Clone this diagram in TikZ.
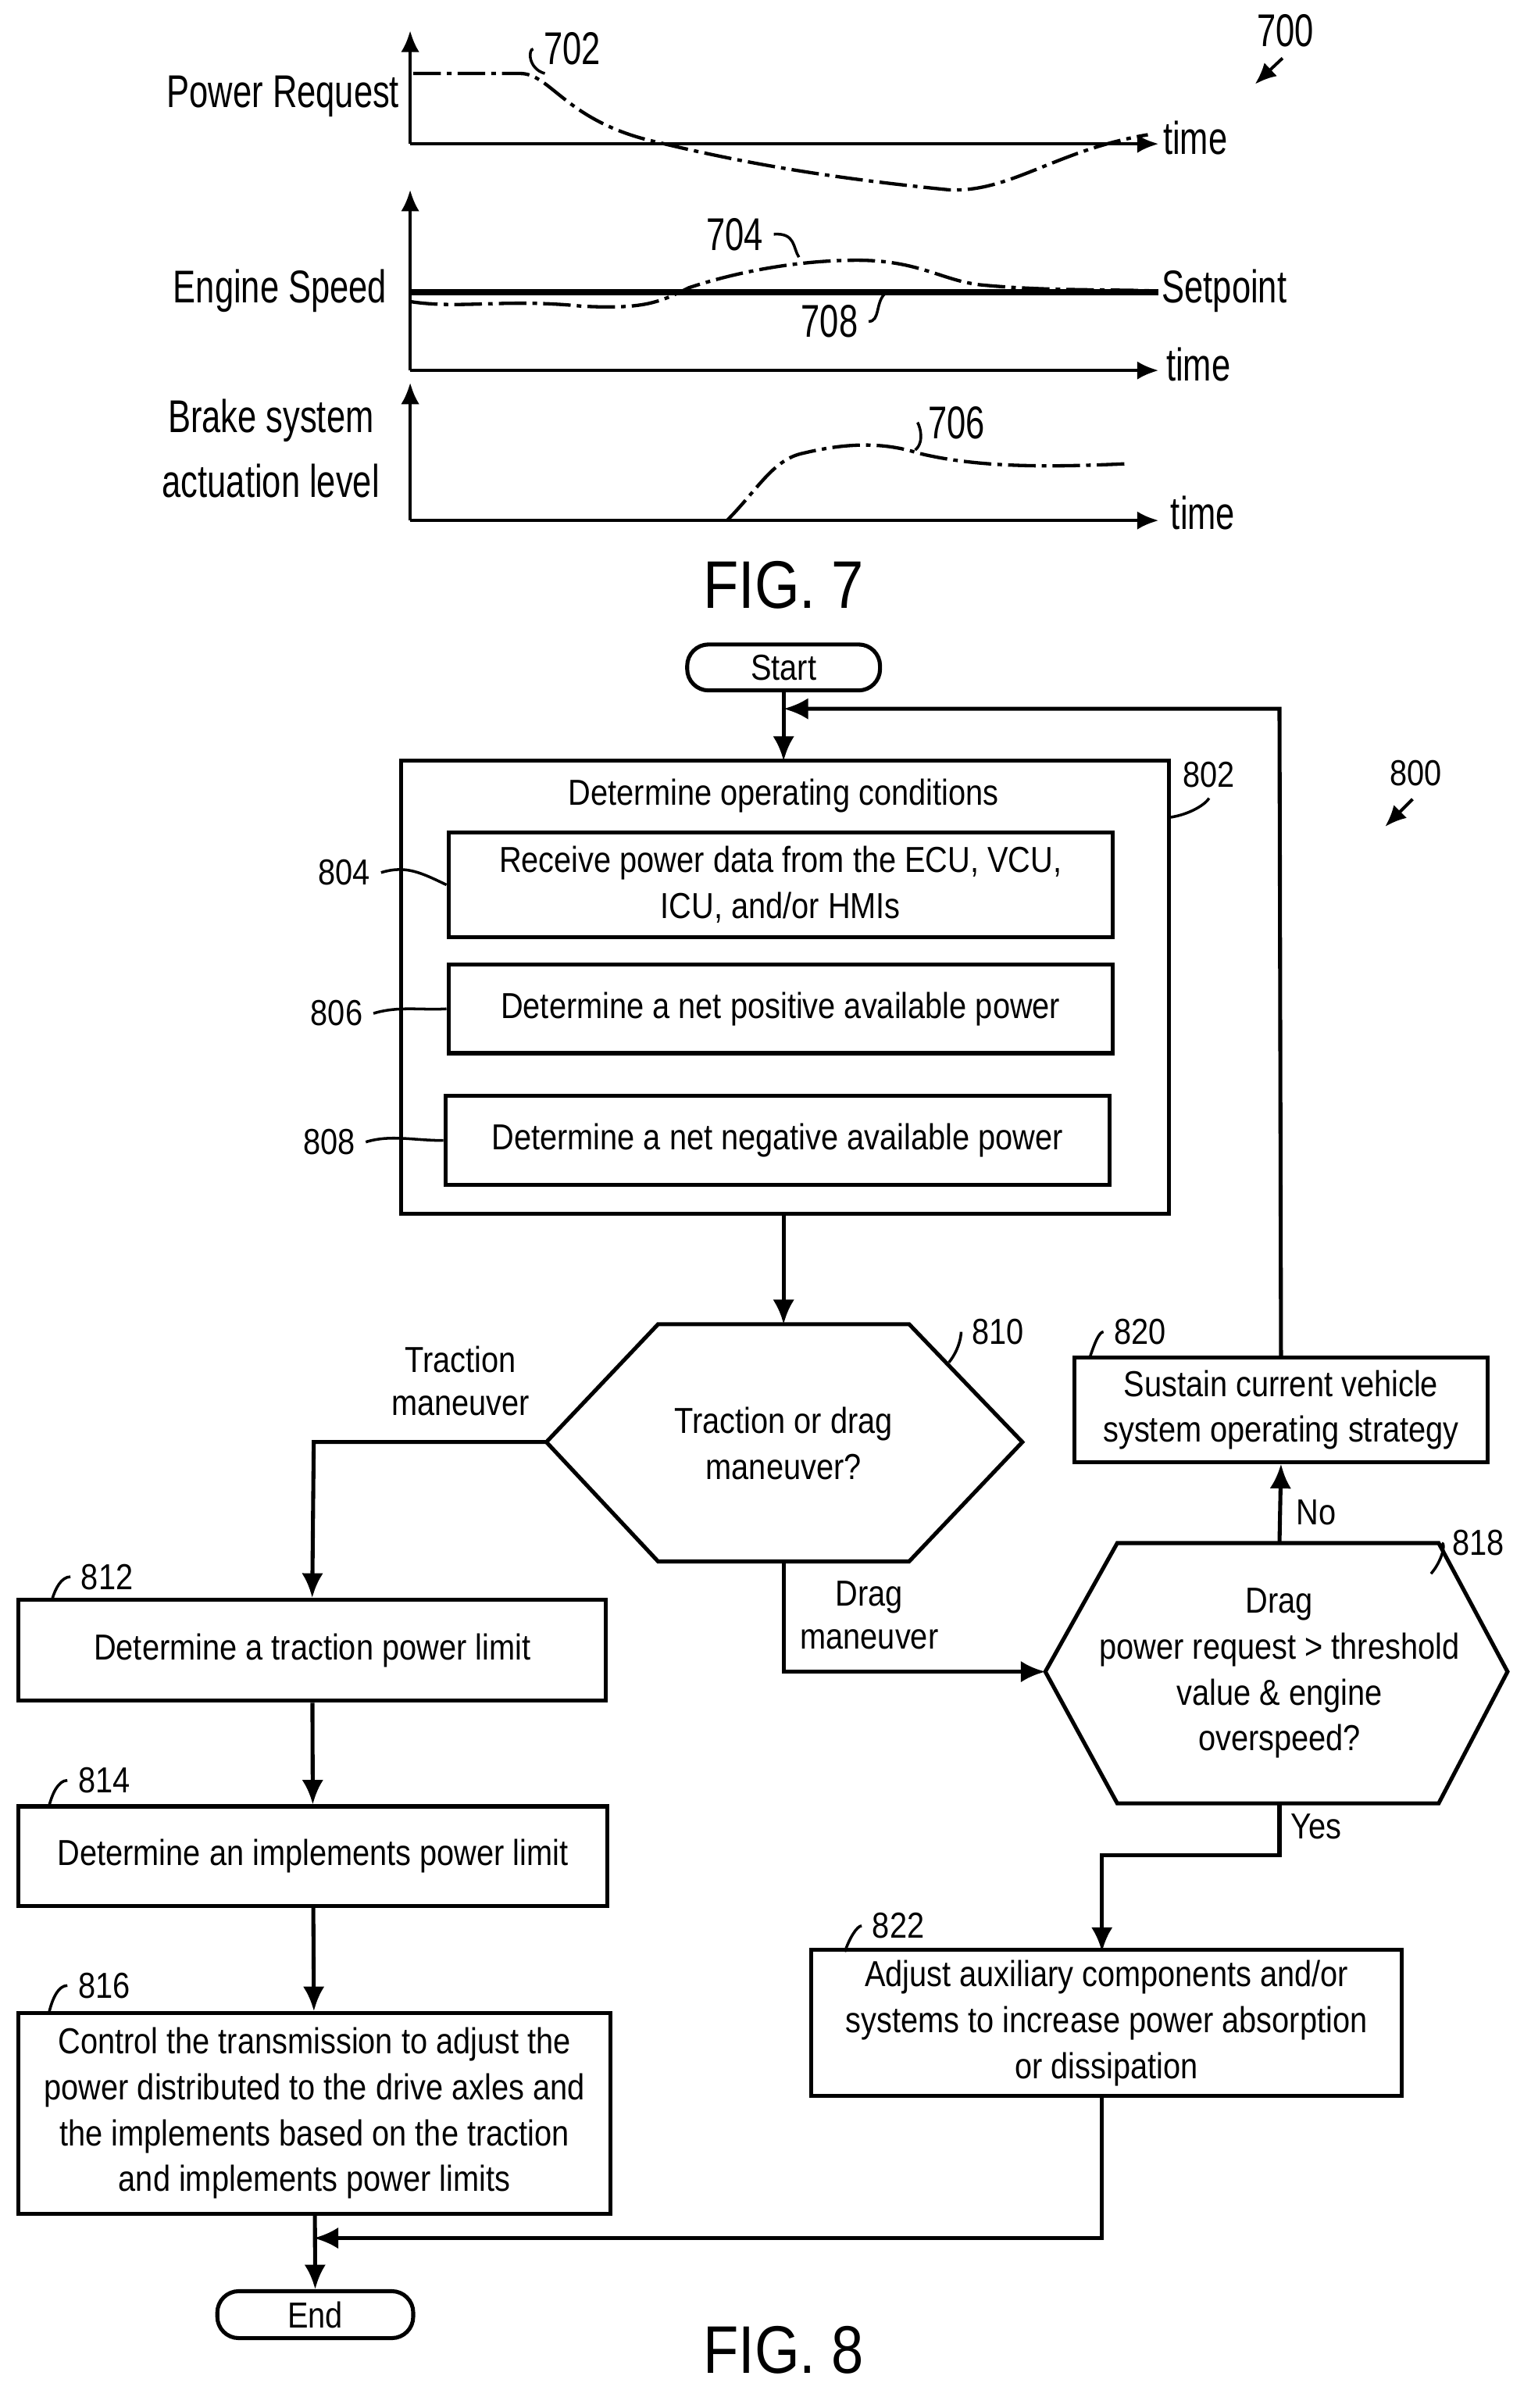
\documentclass[tikz,border=0pt]{standalone}
\usepackage{fontspec}
\setmainfont{Liberation Sans}[FakeStretch=0.86]
\newfontfamily\narrowfont{Liberation Sans}[FakeStretch=0.74]
\usetikzlibrary{arrows.meta,shapes.geometric}
\tikzset{
  box/.style={draw,line width=1.3pt,align=center,font=\fontsize{11.8}{15}\selectfont},
  lbl/.style={font=\fontsize{11.8}{14}\selectfont},
  axlbl/.style={font=\narrowfont\fontsize{15}{21}\selectfont,align=center},
  ax/.style={line width=1pt,-{Latex[length=7pt,width=6pt]}},
  flow/.style={line width=1.3pt,-{Latex[length=8pt,width=7pt]}},
  curve/.style={line width=1.1pt,dash pattern={on 9pt off 2pt on 1.5pt off 2pt}},
  lead/.style={line width=0.9pt},
  term/.style={draw,line width=1.3pt,rounded corners=7pt,font=\fontsize{11.8}{13}\selectfont}
}
\begin{document}
\begin{tikzpicture}[x=0.5pt,y=-0.5pt]
\useasboundingbox (0,0) rectangle (1000,1573);

%FIG. 7 axes
\coordinate (o1) at (268,94); \coordinate (o2) at (268,242); \coordinate (o3) at (268,340);
\draw[ax] (o1) -- (268,20);
\draw[ax] (o1) -- (757,94);
\draw[ax] (o2) -- (268,124);
\draw[ax] (o2) -- (757,242);
\draw[ax] (o3) -- (268,250);
\draw[ax] (o3) -- (757,340);
\draw[line width=2pt] (268,191) -- (757,191);

\node[axlbl] (preq) at (185,63) {Power Request};
\node[axlbl] (espd) at (183,190) {Engine Speed};
\node[axlbl] (brk) at (177,293) {Brake system\\actuation level};
\node[axlbl] (t1) at (781,90) {time};
\node[axlbl] (t2) at (783,238) {time};
\node[axlbl] (t3) at (786,335) {time};
\node[axlbl] (setp) at (800,190) {Setpoint};

%curves
\draw[curve] (270,48) -- (340,48) .. controls (360,48) and (370,80) .. (430,93)
  .. controls (500,110) and (560,118) .. (620,124) .. controls (660,126) and (690,98) .. (750,88);
\draw[curve] (268,197) .. controls (300,202) and (330,195) .. (380,200) .. controls (420,202) and (430,198) .. (450,188)
  .. controls (480,178) and (520,170) .. (560,170) .. controls (600,170) and (615,183) .. (640,186)
  .. controls (680,190) and (720,189) .. (755,190);
\draw[curve] (475,340) .. controls (495,320) and (505,300) .. (525,296) .. controls (550,290) and (575,288) .. (600,296)
  .. controls (640,306) and (690,305) .. (735,303);

%curve labels
\node[axlbl] (l702) at (374,32) {702};
\node[axlbl] (l704) at (480,153) {704};
\node[axlbl] (l708) at (542,210) {708};
\node[axlbl] (l706) at (625,276) {706};
\node[axlbl] (l700) at (840,20) {700};
\draw[lead] (l702.west) .. controls (345,32) and (345,45) .. (356,48);
\draw[lead] (l704.east) .. controls (520,152) and (518,162) .. (522,168);
\draw[lead] (l708.east) .. controls (575,210) and (572,198) .. (578,192);
\draw[lead] (l706.west) .. controls (600,276) and (605,288) .. (598,294);
\draw[line width=1pt,-{Latex[length=7pt,width=6pt]}] (838,38) -- (820,55);
\node[font=\fontsize{22}{26}\selectfont] (fig7) at (512,382) {FIG. 7};

%FIG. 8
\node[term,minimum width=63pt,minimum height=14pt] (start) at (512,436) {Start};
\draw[box] (262,497) rectangle (764,793);
\node[box,draw=none] (t802) at (512,520) {Determine operating conditions};
\node[box,minimum width=217pt,minimum height=34pt] (b804) at (510,578) {Receive power data from the ECU, VCU,\\ICU, and/or HMIs};
\node[box,minimum width=217pt,minimum height=29pt] (b806) at (510,659) {Determine a net positive available power};
\node[box,minimum width=217pt,minimum height=29pt] (b808) at (508,745) {Determine a net negative available power};
\coordinate (b802s) at (512,793);

\node[lbl] (l802) at (790,506) {802};
\node[lbl] (l804) at (225,570) {804};
\node[lbl] (l806) at (220,662) {806};
\node[lbl] (l808) at (215,746) {808};
\node[lbl] (l800) at (925,505) {800};
\draw[lead] (l802.south) .. controls (788,525) and (778,532) .. (764,534);
\draw[lead] (l804.east) .. controls (265,565) and (275,570) .. (b804.west);
\draw[lead] (l806.east) .. controls (260,657) and (275,660) .. (b806.west);
\draw[lead] (l808.east) .. controls (255,741) and (270,745) .. (b808.west);
\draw[line width=1pt,-{Latex[length=7pt,width=6pt]}] (923,522) -- (905,540);

\draw[box] (357,942) -- (430,865) -- (594,865) -- (668,942) -- (594,1020) -- (430,1020) -- cycle;
\node[box,draw=none] (d810) at (512,943) {Traction or drag\\maneuver?};
\coordinate (d810n) at (512,865); \coordinate (d810w) at (357,942); \coordinate (d810s) at (512,1020);
\node[lbl] (l810) at (652,870) {810};
\draw[lead] (l810.west) .. controls (628,870) and (628,880) .. (620,890);

\node[box,minimum width=192pt,minimum height=33pt] (b812) at (204,1078) {Determine a traction power limit};
\node[box,minimum width=192.5pt,minimum height=32.5pt] (b814) at (204.5,1212.5) {Determine an implements power limit};
\node[box,minimum width=193.5pt,minimum height=65.5pt] (b816) at (205.5,1380.5) {Control the transmission to adjust the\\power distributed to the drive axles and\\the implements based on the traction\\and implements power limits};
\node[term,minimum width=64pt,minimum height=14pt] (end) at (206,1512) {End};
\node[lbl] (l812) at (70,1030) {812};
\node[lbl] (l814) at (68,1163) {814};
\node[lbl] (l816) at (68,1297) {816};
\draw[lead] (l812.west) .. controls (40,1030) and (36,1038) .. (34,1045);
\draw[lead] (l814.west) .. controls (38,1163) and (34,1172) .. (32,1180);
\draw[lead] (l816.west) .. controls (38,1297) and (34,1306) .. (32,1315);

\draw[box] (683,1092) -- (730,1008) -- (940,1008) -- (985,1092) -- (940,1178) -- (730,1178) -- cycle;
\node[box,draw=none] (d818) at (836,1093) {Drag\\power request > threshold\\value \& engine\\overspeed?};
\coordinate (d818w) at (683,1092); \coordinate (d818n) at (836,1008); \coordinate (d818s) at (836,1178);
\node[lbl] (l818) at (966,1008) {818};
\draw[lead] (l818.west) .. controls (945,1008) and (942,1020) .. (935,1028);

\node[box,minimum width=135pt,minimum height=34pt] (b820) at (837,921) {Sustain current vehicle\\system operating strategy};
\node[lbl] (l820) at (745,870) {820};
\draw[lead] (l820.west) .. controls (718,870) and (715,878) .. (712,887);
\node[box,minimum width=193pt,minimum height=46.5pt] (b822) at (723,1321.5) {Adjust auxiliary components and/or\\systems to increase power absorption\\or dissipation};
\node[lbl] (l822) at (587,1258) {822};
\draw[lead] (l822.west) .. controls (560,1258) and (555,1266) .. (552,1275);

%branch labels
\node[lbl,align=center] (trac) at (301,902) {Traction\\maneuver};
\node[lbl,align=center] (drag) at (568,1055) {Drag\\maneuver};
\node[lbl] (no) at (860,988) {No};
\node[lbl] (yes) at (860,1193) {Yes};

%connectors
\draw[flow] (start) -- (512,497);
\draw[flow] (b802s) -- (d810n);
\draw[flow] (d810w) -- (205,942) -- (b812.north);
\draw[flow] (b812) -- (b814);
\draw[flow] (b814) -- (b816);
\draw[flow] (b816) -- (end);
\draw[flow] (d810s) -- (512,1092) -- (d818w);
\draw[flow] (d818n) -- (b820.south);
\draw[flow] (b820.north) -- (836,463) -- (512,463);
\draw[flow] (d818s) -- (836,1212) -- (720,1212) -- (720,1275);
\draw[flow] (720,1368) -- (720,1462) -- (205,1462);

\node[font=\fontsize{22}{26}\selectfont] (fig8) at (512,1535) {FIG. 8};
\end{tikzpicture}
\end{document}
